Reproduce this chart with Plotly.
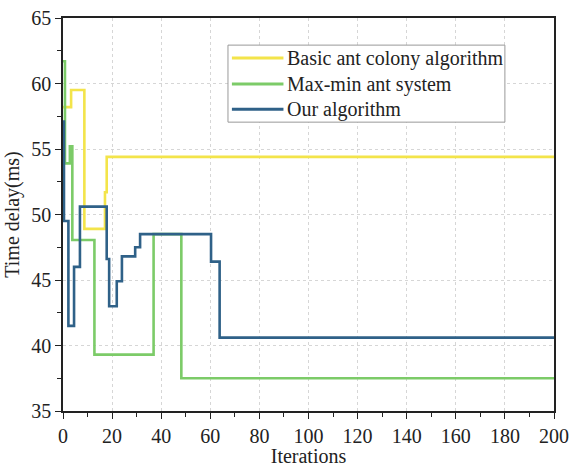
import plotly.graph_objects as go

# Step curves: value holds from each iteration until the next listed one
basic_x = [0, 3.3, 8.7, 17.1, 17.8, 200]
basic_y = [58.2, 59.5, 48.9, 51.7, 54.4, 54.4]

maxmin_x = [0, 0.8, 2.8, 3.8, 12.8, 36.9, 48.2, 200]
maxmin_y = [61.7, 53.9, 55.2, 48.05, 39.3, 48.5, 37.5, 37.5]

ours_x = [0, 0.4, 2.2, 4.5, 6.9, 17.8, 18.8, 21.9, 24.0, 29.4, 31.4, 60.3, 63.8, 200]
ours_y = [57.1, 49.5, 41.5, 46.0, 50.6, 46.6, 43.0, 44.9, 46.8, 47.5, 48.5, 46.4, 40.6, 40.6]

names = ["Basic ant colony algorithm", "Max-min ant system", "Our algorithm"]
colors = ["#f3e44a", "#7ccb68", "#2f6188"]

x_ticks = list(range(0, 201, 20))
y_ticks = list(range(35, 66, 5))

FONT = "Liberation Serif"

fig = go.Figure()
for xs, ys, nm, c in zip([basic_x, maxmin_x, ours_x], [basic_y, maxmin_y, ours_y], names, colors):
    fig.add_trace(go.Scatter(x=xs, y=ys, mode="lines", name=nm, showlegend=False,
                             line=dict(color=c, width=2.6, shape="hv")))

axis_common = dict(
    showline=True, linecolor="#222", linewidth=1.5, mirror=True,
    ticks="outside", ticklen=6, tickwidth=1.3, tickcolor="#222",
    showgrid=True, gridcolor="#d6d6d6", griddash="dot", gridwidth=1,
    zeroline=False, automargin=False,
    tickfont=dict(family=FONT, size=20, color="#222"),
)

fig.update_xaxes(range=[0, 200], tickvals=x_ticks,
                 minor=dict(dtick=10, tick0=0, ticks="outside", ticklen=4, tickcolor="#222", showgrid=False),
                 title=dict(text="Iterations", font=dict(family=FONT, size=20, color="#222"), standoff=2),
                 **axis_common)
fig.update_yaxes(range=[35, 65], tickvals=y_ticks,
                 minor=dict(dtick=2.5, tick0=35, ticks="outside", ticklen=4, tickcolor="#222", showgrid=False),
                 title=dict(text="Time delay(ms)", font=dict(family=FONT, size=20, color="#222"), standoff=6),
                 **axis_common)

# Legend drawn as a framed box with line samples (paper coordinates)
box_x0, box_x1, box_y0, box_y1 = 0.336, 0.900, 0.735, 0.931
row_y = [0.898, 0.832, 0.768]
sample_x0, sample_x1, text_x = 0.344, 0.449, 0.452
shapes = [dict(type="rect", xref="paper", yref="paper", x0=box_x0, x1=box_x1, y0=box_y0, y1=box_y1,
               line=dict(color="#999", width=1), fillcolor="white", layer="above")]
annotations = []
for nm, c, yy in zip(names, colors, row_y):
    shapes.append(dict(type="line", xref="paper", yref="paper", x0=sample_x0, x1=sample_x1, y0=yy, y1=yy,
                       line=dict(color=c, width=3), layer="above"))
    annotations.append(dict(xref="paper", yref="paper", x=text_x, y=yy, text=nm, showarrow=False,
                            xanchor="left", yanchor="middle",
                            font=dict(family=FONT, size=20, color="#222")))

fig.update_layout(
    width=571, height=467,
    margin=dict(l=63, r=17, t=18, b=56),
    paper_bgcolor="white", plot_bgcolor="white",
    shapes=shapes, annotations=annotations,
)

fig.write_html("out.html")
